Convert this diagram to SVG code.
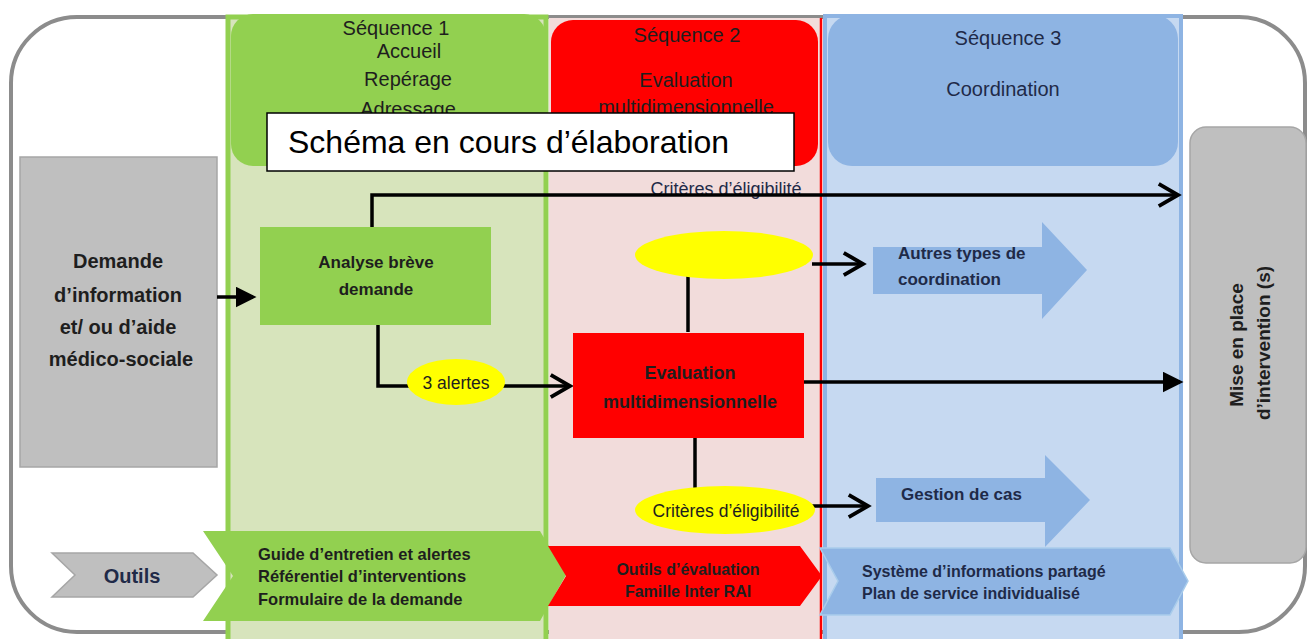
<svg xmlns="http://www.w3.org/2000/svg" width="1312" height="639" viewBox="0 0 1312 639">
<style>
text{font-family:"Liberation Sans",Arial,sans-serif;fill:#1e1e1e}
.b{font-weight:bold}
.c{text-anchor:middle}
.h{font-size:20px}
.nv{fill:#1f2a48}
.ln{fill:none;stroke:#000;stroke-width:3.5}
.gray{fill:#BFBFBF;stroke:#A6A6A6;stroke-width:1.5}
.blue{fill:#8EB4E3}
.yel{fill:#FFFF00}
</style>
<defs>
<marker id="fa" markerWidth="6" markerHeight="6" refX="5" refY="3" orient="auto" markerUnits="strokeWidth"><path d="M0,0 L6,3 L0,6 Z" fill="#000"/></marker>
<marker id="oa" markerWidth="8" markerHeight="8" refX="6.5" refY="4" orient="auto" markerUnits="strokeWidth"><path d="M1,0.8 L6.5,4 L1,7.2" fill="none" stroke="#000" stroke-width="1.1"/></marker>
</defs>
<rect id="frame" x="11" y="17" width="1294" height="615" rx="66" fill="#fff" stroke="#8c8c8c" stroke-width="4"/>
<g id="col1"><rect x="228" y="17" width="318" height="630" fill="#D7E4BC" stroke="#92D050" stroke-width="5"/><rect x="231" y="14" width="315" height="152" rx="22" fill="#92D050"/>
<text class="c h" x="396" y="35">Séquence 1</text><text class="c h" x="409" y="58">Accueil</text><text class="c h" x="408" y="86">Repérage</text><text class="c h" x="408" y="116">Adressage</text></g>
<g id="col2"><rect x="549" y="18" width="272" height="630" fill="#F2DCDB"/><line x1="821" y1="18" x2="821" y2="639" stroke="#FF0000" stroke-width="2.5"/><rect x="551" y="20" width="267" height="146" rx="22" fill="#FF0000"/>
<text class="c h" x="687" y="42">Séquence 2</text><text class="c h" x="686" y="87">Evaluation</text><text class="c h" x="686" y="114">multidimensionnelle</text></g>
<g id="col3"><rect x="825" y="16" width="356" height="630" fill="#C6D9F1" stroke="#8EB4E3" stroke-width="4"/><rect x="828" y="15" width="350" height="151" rx="24" fill="#8EB4E3"/>
<text class="c h nv" x="1008" y="45">Séquence 3</text><text class="c h nv" x="1003" y="96">Coordination</text></g>
<g id="schema"><rect x="267" y="113" width="527" height="58" fill="#fff" stroke="#000" stroke-width="1.5"/><text x="288" y="153" style="font-size:32px;fill:#000">Schéma en cours d’élaboration</text></g>
<g id="demande"><rect class="gray" x="20" y="157" width="197" height="310"/>
<text class="b c" style="font-size:20px" x="118" y="268">Demande</text><text class="b c" style="font-size:20px" x="118" y="302">d’information</text><text class="b c" style="font-size:20px" x="118" y="334">et/ ou d’aide</text><text class="b c" style="font-size:20px" x="121" y="366">médico-sociale</text></g>
<g id="mise"><rect class="gray" x="1190" y="127" width="116" height="436" rx="16"/>
<text class="b c" style="font-size:19px" transform="translate(1243,345) rotate(-90)">Mise en place</text><text class="b c" style="font-size:19px" transform="translate(1270,343) rotate(-90)">d’intervention (s)</text></g>
<text id="lbl-crit" class="c nv" style="font-size:18px" x="726" y="195">Critères d’éligibilité</text>
<g id="connectors">
<path class="ln" d="M217,297 H253" marker-end="url(#fa)"/>
<path class="ln" d="M372,228 V195 H1178" marker-end="url(#oa)"/>
<path class="ln" d="M378,323 V386 H570" marker-end="url(#oa)"/>
<path class="ln" d="M812,264 H863" marker-end="url(#oa)"/>
<path class="ln" d="M688,276 V332"/>
<path class="ln" d="M695,437 V490"/>
<path class="ln" d="M812,506 H868" marker-end="url(#oa)"/>
<path class="ln" d="M804,382 H1180" marker-end="url(#fa)"/>
</g>
<g id="analyse"><rect x="260" y="227" width="231" height="98" fill="#92D050"/><text class="b c" style="font-size:17px" x="376" y="268">Analyse brève</text><text class="b c" style="font-size:17px" x="376" y="295">demande</text></g>
<g id="evaluation"><rect x="573" y="333" width="231" height="105" fill="#FF0000"/><text class="b c" style="font-size:18px" x="690" y="379">Evaluation</text><text class="b c" style="font-size:18px" x="690" y="408">multidimensionnelle</text></g>
<g id="ell-top"><ellipse class="yel" cx="724" cy="255" rx="89" ry="24"/></g>
<g id="alertes"><ellipse class="yel" cx="456" cy="382" rx="49" ry="23"/><text class="c" style="font-size:17.5px" x="456" y="389">3 alertes</text></g>
<g id="criteres"><ellipse class="yel" cx="725" cy="510" rx="90" ry="24"/><text class="c" style="font-size:17.5px" x="726" y="517">Critères d’éligibilité</text></g>
<g id="autres"><polygon class="blue" points="873,247 1042,247 1042,222 1087,270 1042,319 1042,294 873,294"/><text class="b nv" style="font-size:17px" x="898" y="259">Autres types de</text><text class="b nv" style="font-size:17px" x="898" y="285">coordination</text></g>
<g id="gestion"><polygon class="blue" points="876,478 1045,478 1045,455 1090,500 1045,547 1045,522 876,522"/><text class="b nv" style="font-size:17px" x="901" y="500">Gestion de cas</text></g>
<g id="outils"><polygon class="gray" points="52,553 193,553 217,575 193,597 52,597 75,575"/><text class="b c nv" style="font-size:20px" x="132" y="583">Outils</text></g>
<g id="tools1"><polygon points="203,531 540,531 566,575 540,621 203,621 233,576" fill="#92D050"/><text class="b" style="font-size:16.5px" x="258" y="560">Guide d’entretien et alertes</text><text class="b" style="font-size:16.5px" x="258" y="582">Référentiel d’interventions</text><text class="b" style="font-size:16.5px" x="258" y="605">Formulaire de la demande</text></g>
<g id="tools2"><polygon points="548,546 800,546 822,576 800,606 548,606 566,576" fill="#FF0000"/><text class="b c" style="font-size:16px" x="688" y="575">Outils d’évaluation</text><text class="b c" style="font-size:16px" x="688" y="597">Famille Inter RAI</text></g>
<g id="tools3"><polygon points="820,548 1170,548 1188,581 1170,615 820,615 838,581" fill="#8EB4E3" stroke="#A9CCEB" stroke-width="1.5"/><text class="b nv" style="font-size:16px" x="862" y="577">Système d’informations partagé</text><text class="b nv" style="font-size:16px" x="862" y="599">Plan de service individualisé</text></g>
</svg>
